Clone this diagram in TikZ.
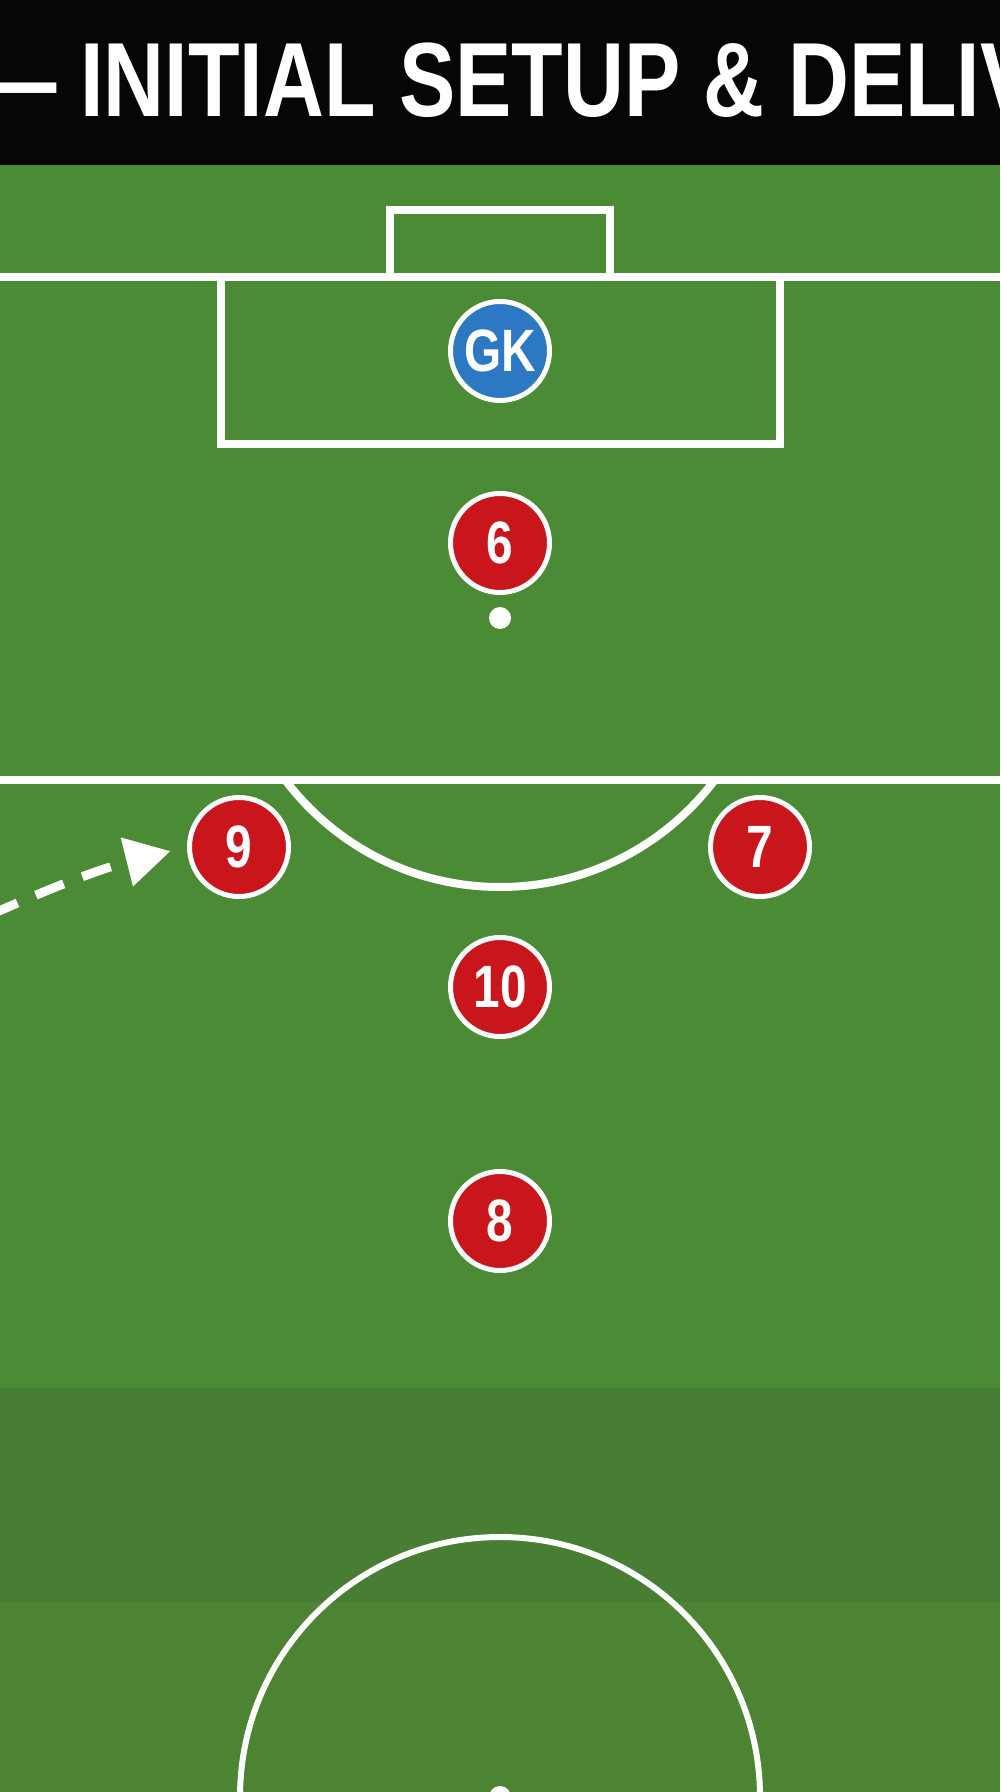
\documentclass[tikz,border=0pt]{standalone}
\usepackage{fontspec}
\usetikzlibrary{arrows.meta}
\newfontfamily\cnfont[FakeStretch=0.8]{Liberation Sans}
\definecolor{pitch}{RGB}{75,139,54}
\definecolor{pitchdark}{RGB}{72,126,51}
\definecolor{pitchlow}{RGB}{76,132,52}
\definecolor{shirt}{RGB}{200,22,28}
\definecolor{keepershirt}{RGB}{44,120,195}
\definecolor{band}{RGB}{6,6,6}

\begin{document}
\begin{tikzpicture}[x=0.1mm,y=-0.1mm,
    line/.style={draw=white,line width=0.8mm},
    player/.style={circle,draw=white,line width=0.5mm,fill=shirt,minimum size=9.9mm,
      inner sep=0pt,text=white,font=\cnfont\bfseries\fontsize{17}{17}\selectfont},
    keeper/.style={player,fill=keepershirt}]
  \useasboundingbox (0,0) rectangle (1000,1792);
  \clip (0,0) rectangle (1000,1792);
  \fill[pitch] (0,165) rectangle (1000,1388);
  \fill[pitchdark] (0,1388) rectangle (1000,1602);
  \fill[pitchlow] (0,1602) rectangle (1000,1792);
  \fill[band] (0,0) rectangle (1000,165);
  \node[anchor=base west,inner sep=0pt,text=white,
    font=\cnfont\bfseries\fontsize{30}{30}\selectfont] (title) at (-28,117)
    {— INITIAL SETUP \& DELIV};

  \draw[line] (0,277) -- (1000,277);
  \draw[line] (390,277) -- (390,210) -- (610,210) -- (610,277);
  \draw[line] (221,277) -- (221,444) -- (780,444) -- (780,277);
  \draw[line] (0,780) -- (1000,780);
  \coordinate (spot) at (500,618);
  \begin{scope}
    \clip (0,780) rectangle (1000,1000);
    \draw[line] (spot) circle[radius=26.9mm];
  \end{scope}
  \fill[white] (spot) circle[radius=1.1mm];
  \coordinate (centre) at (500,1797);
  \draw[line,line width=0.6mm] (centre) circle[radius=26mm];
  \fill[white] (centre) circle[radius=1.1mm];

  \node[keeper] (gk) at (500,351) {GK};
  \node[player] (six) at (500,543) {6};
  \node[player] (nine) at (239,847) {9};
  \node[player] (seven) at (760,847) {7};
  \node[player] (ten) at (500,987) {10};
  \node[player] (eight) at (500,1221) {8};

  \coordinate (run) at (-10,915);
  \draw[line,line width=0.9mm,dash pattern=on 3mm off 2mm,shorten >=1.7mm,
    -{Triangle[length=4.5mm,width=4.8mm]}] (run) to[out=24,in=194] (nine.west);
\end{tikzpicture}
\end{document}
